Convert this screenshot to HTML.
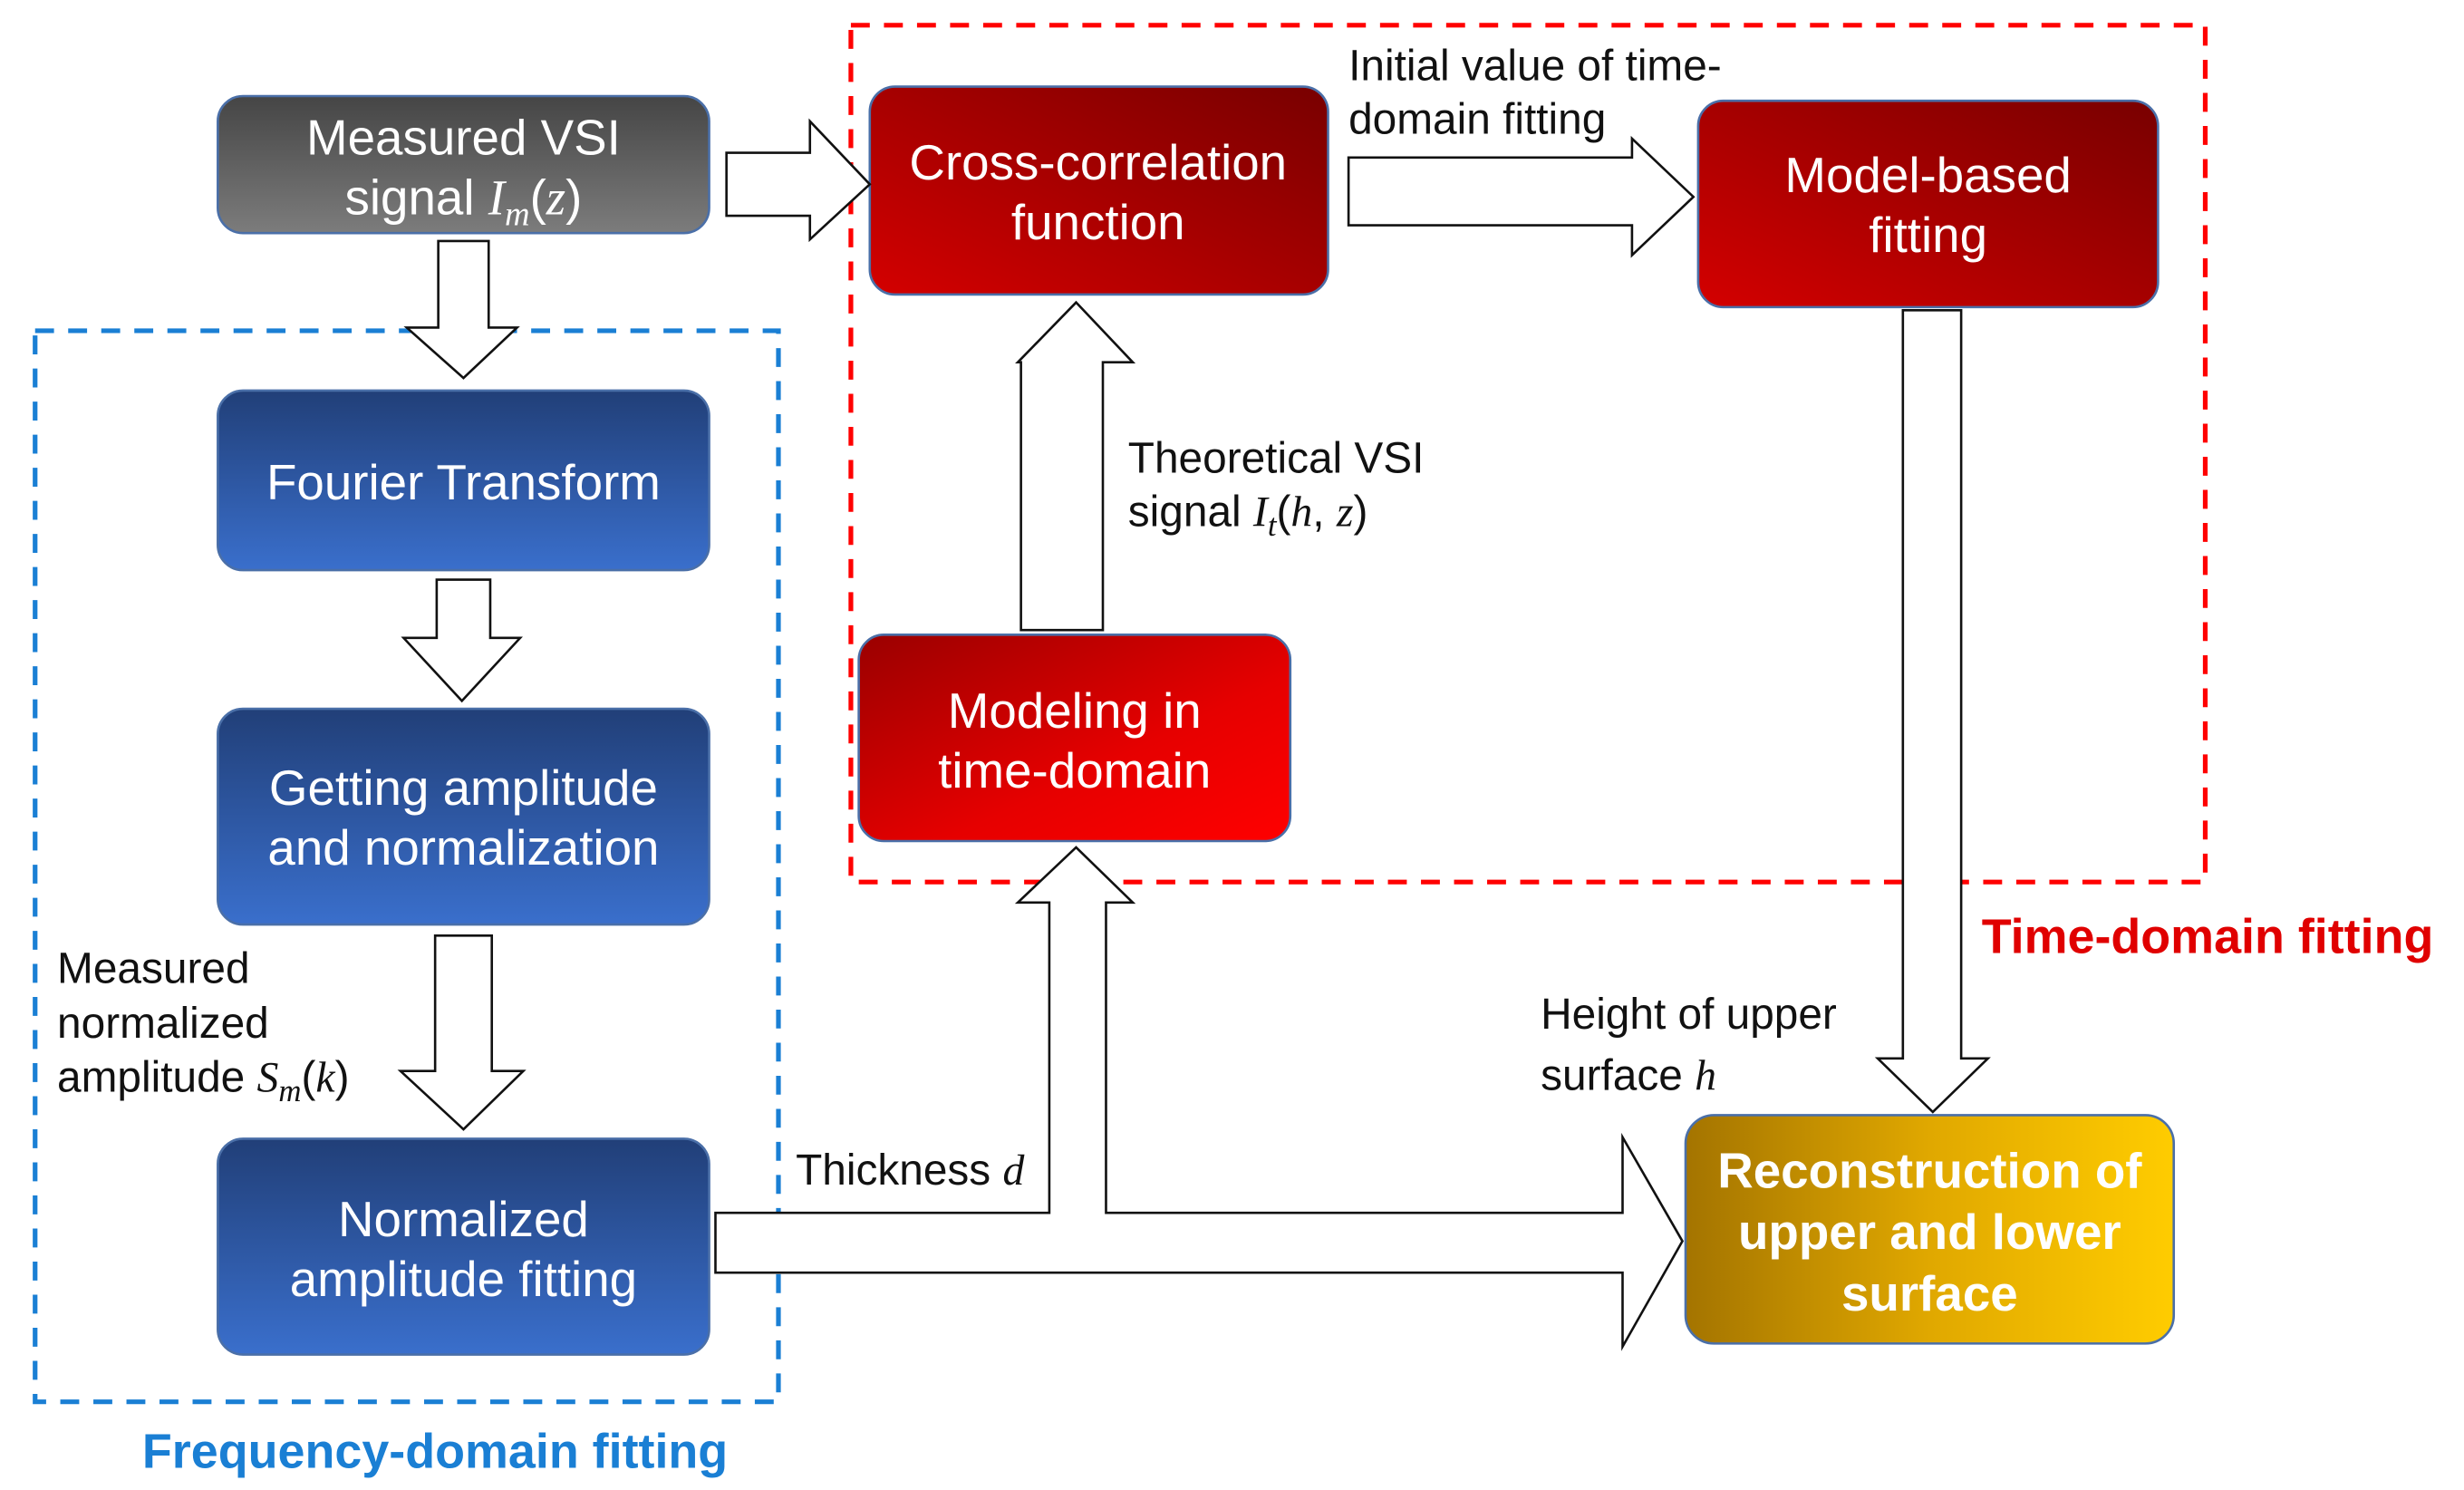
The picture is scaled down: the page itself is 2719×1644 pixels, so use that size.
<!DOCTYPE html>
<html><head><meta charset="utf-8"><style>
html,body{margin:0;padding:0;background:#fff;}
svg{display:block;}
.bt{font-family:"Liberation Sans",sans-serif;font-size:31.5px;fill:#fff;text-anchor:middle;}
.lb{font-family:"Liberation Sans",sans-serif;font-size:27.5px;fill:#111;}
.m{font-family:"Liberation Serif",serif;font-style:italic;}
</style></head><body>
<svg width="2719" height="1644" viewBox="0 0 1564 946" xmlns="http://www.w3.org/2000/svg">
<defs>
<linearGradient id="gg" x1="0" y1="0" x2="0" y2="1"><stop offset="0" stop-color="#454545"/><stop offset="1" stop-color="#7c7c7c"/></linearGradient>
<linearGradient id="bg" x1="0" y1="0" x2="0" y2="1"><stop offset="0" stop-color="#213f78"/><stop offset="1" stop-color="#3a6fcc"/></linearGradient>
<linearGradient id="rg1" x1="0" y1="1" x2="1" y2="0"><stop offset="0" stop-color="#d40000"/><stop offset="1" stop-color="#780000"/></linearGradient>
<linearGradient id="rg2" x1="0" y1="0" x2="1" y2="1"><stop offset="0" stop-color="#9a0000"/><stop offset="0.6" stop-color="#e60000"/><stop offset="1" stop-color="#ff0000"/></linearGradient>
<linearGradient id="yg" x1="0" y1="0" x2="1" y2="0"><stop offset="0" stop-color="#a47400"/><stop offset="0.5" stop-color="#e0a800"/><stop offset="1" stop-color="#ffcc00"/></linearGradient>
</defs>
<rect x="22" y="210" width="472" height="680" fill="none" stroke="#1a7fd4" stroke-width="3" stroke-dasharray="12,9"/>
<rect x="540" y="16" width="860" height="544" fill="none" stroke="#ff0000" stroke-width="3" stroke-dasharray="12,9"/>
<rect x="138" y="61" width="312" height="87" rx="16" fill="url(#gg)" stroke="#4a6fa8" stroke-width="1.5"/>
<text class="bt" x="294" y="98">Measured VSI</text>
<text class="bt" x="294" y="136">signal <tspan class="m">I</tspan><tspan class="m" font-size="22" dy="7">m</tspan><tspan dy="-7">(</tspan><tspan class="m">z</tspan>)</text>
<rect x="138" y="248" width="312" height="114" rx="16" fill="url(#bg)" stroke="#4a6fa8" stroke-width="1.5"/>
<text class="bt" x="294" y="317">Fourier Transform</text>
<rect x="138" y="450" width="312" height="137" rx="16" fill="url(#bg)" stroke="#4a6fa8" stroke-width="1.5"/>
<text class="bt" x="294" y="511">Getting amplitude</text>
<text class="bt" x="294" y="549">and normalization</text>
<rect x="138" y="723" width="312" height="137" rx="16" fill="url(#bg)" stroke="#4a6fa8" stroke-width="1.5"/>
<text class="bt" x="294" y="785">Normalized</text>
<text class="bt" x="294" y="823">amplitude fitting</text>
<rect x="552" y="55" width="291" height="132" rx="16" fill="url(#rg1)" stroke="#4a6fa8" stroke-width="1.5"/>
<text class="bt" x="697" y="114">Cross-correlation</text>
<text class="bt" x="697" y="152">function</text>
<rect x="1078" y="64" width="292" height="131" rx="16" fill="url(#rg1)" stroke="#4a6fa8" stroke-width="1.5"/>
<text class="bt" x="1224" y="122">Model-based</text>
<text class="bt" x="1224" y="160">fitting</text>
<rect x="545" y="403" width="274" height="131" rx="16" fill="url(#rg2)" stroke="#4a6fa8" stroke-width="1.5"/>
<text class="bt" x="682" y="462">Modeling in</text>
<text class="bt" x="682" y="500">time-domain</text>
<rect x="1070" y="708" width="310" height="145" rx="18" fill="url(#yg)" stroke="#4a6fa8" stroke-width="1.5"/>
<text class="bt" x="1225" y="754" font-weight="bold" font-size="30">Reconstruction of</text>
<text class="bt" x="1225" y="793" font-weight="bold" font-size="30">upper and lower</text>
<text class="bt" x="1225" y="832" font-weight="bold" font-size="30">surface</text>
<g fill="#fff" stroke="#111" stroke-width="1.5" stroke-linejoin="miter">
<polygon points="278,153 310,153 310,208 328,208 294,240 258,208 278,208"/>
<polygon points="277,368 311,368 311,405 330,405 293,445 256,405 277,405"/>
<polygon points="276,594 312,594 312,680 332,680 294,717 254,680 276,680"/>
<polygon points="461,97 514,97 514,77 552,117 514,152 514,137 461,137"/>
<polygon points="856,100 1036,100 1036,88 1075,125 1036,162 1036,143 856,143"/>
<polygon points="648,400 648,230 646,230 683,192 719,230 700,230 700,400"/>
<polygon points="1208,197 1245,197 1245,672 1262,672 1227,706 1192,672 1208,672"/>
<polygon points="454,770 666,770 666,573 646,573 683,538 719,573 702,573 702,770 1030,770 1030,722 1068,788 1030,855 1030,808 454,808"/>
</g>
<text class="lb" x="856" y="51">Initial value of time-</text>
<text class="lb" x="856" y="85">domain fitting</text>
<text class="lb" x="716" y="300">Theoretical VSI</text>
<text class="lb" x="716" y="334">signal <tspan class="m">I</tspan><tspan class="m" font-size="20" dy="6">t</tspan><tspan dy="-6">(</tspan><tspan class="m">h</tspan>, <tspan class="m">z</tspan>)</text>
<text class="lb" x="978" y="653" font-size="30">Height of upper</text>
<text class="lb" x="978" y="692" font-size="30">surface <tspan class="m">h</tspan></text>
<text class="lb" x="505" y="752" font-size="30">Thickness <tspan class="m">d</tspan></text>
<text class="lb" x="36" y="624">Measured</text>
<text class="lb" x="36" y="659">normalized</text>
<text class="lb" x="36" y="693">amplitude <tspan class="m">S</tspan><tspan class="m" font-size="20" dy="6">m</tspan><tspan dy="-6">(</tspan><tspan class="m">k</tspan>)</text>
<text x="1258" y="605" font-family="Liberation Sans,sans-serif" font-size="31" font-weight="bold" fill="#e00000">Time-domain fitting</text>
<text x="90" y="932" font-family="Liberation Sans,sans-serif" font-size="31" font-weight="bold" fill="#1a7fd4">Frequency-domain fitting</text>
</svg>
</body></html>
